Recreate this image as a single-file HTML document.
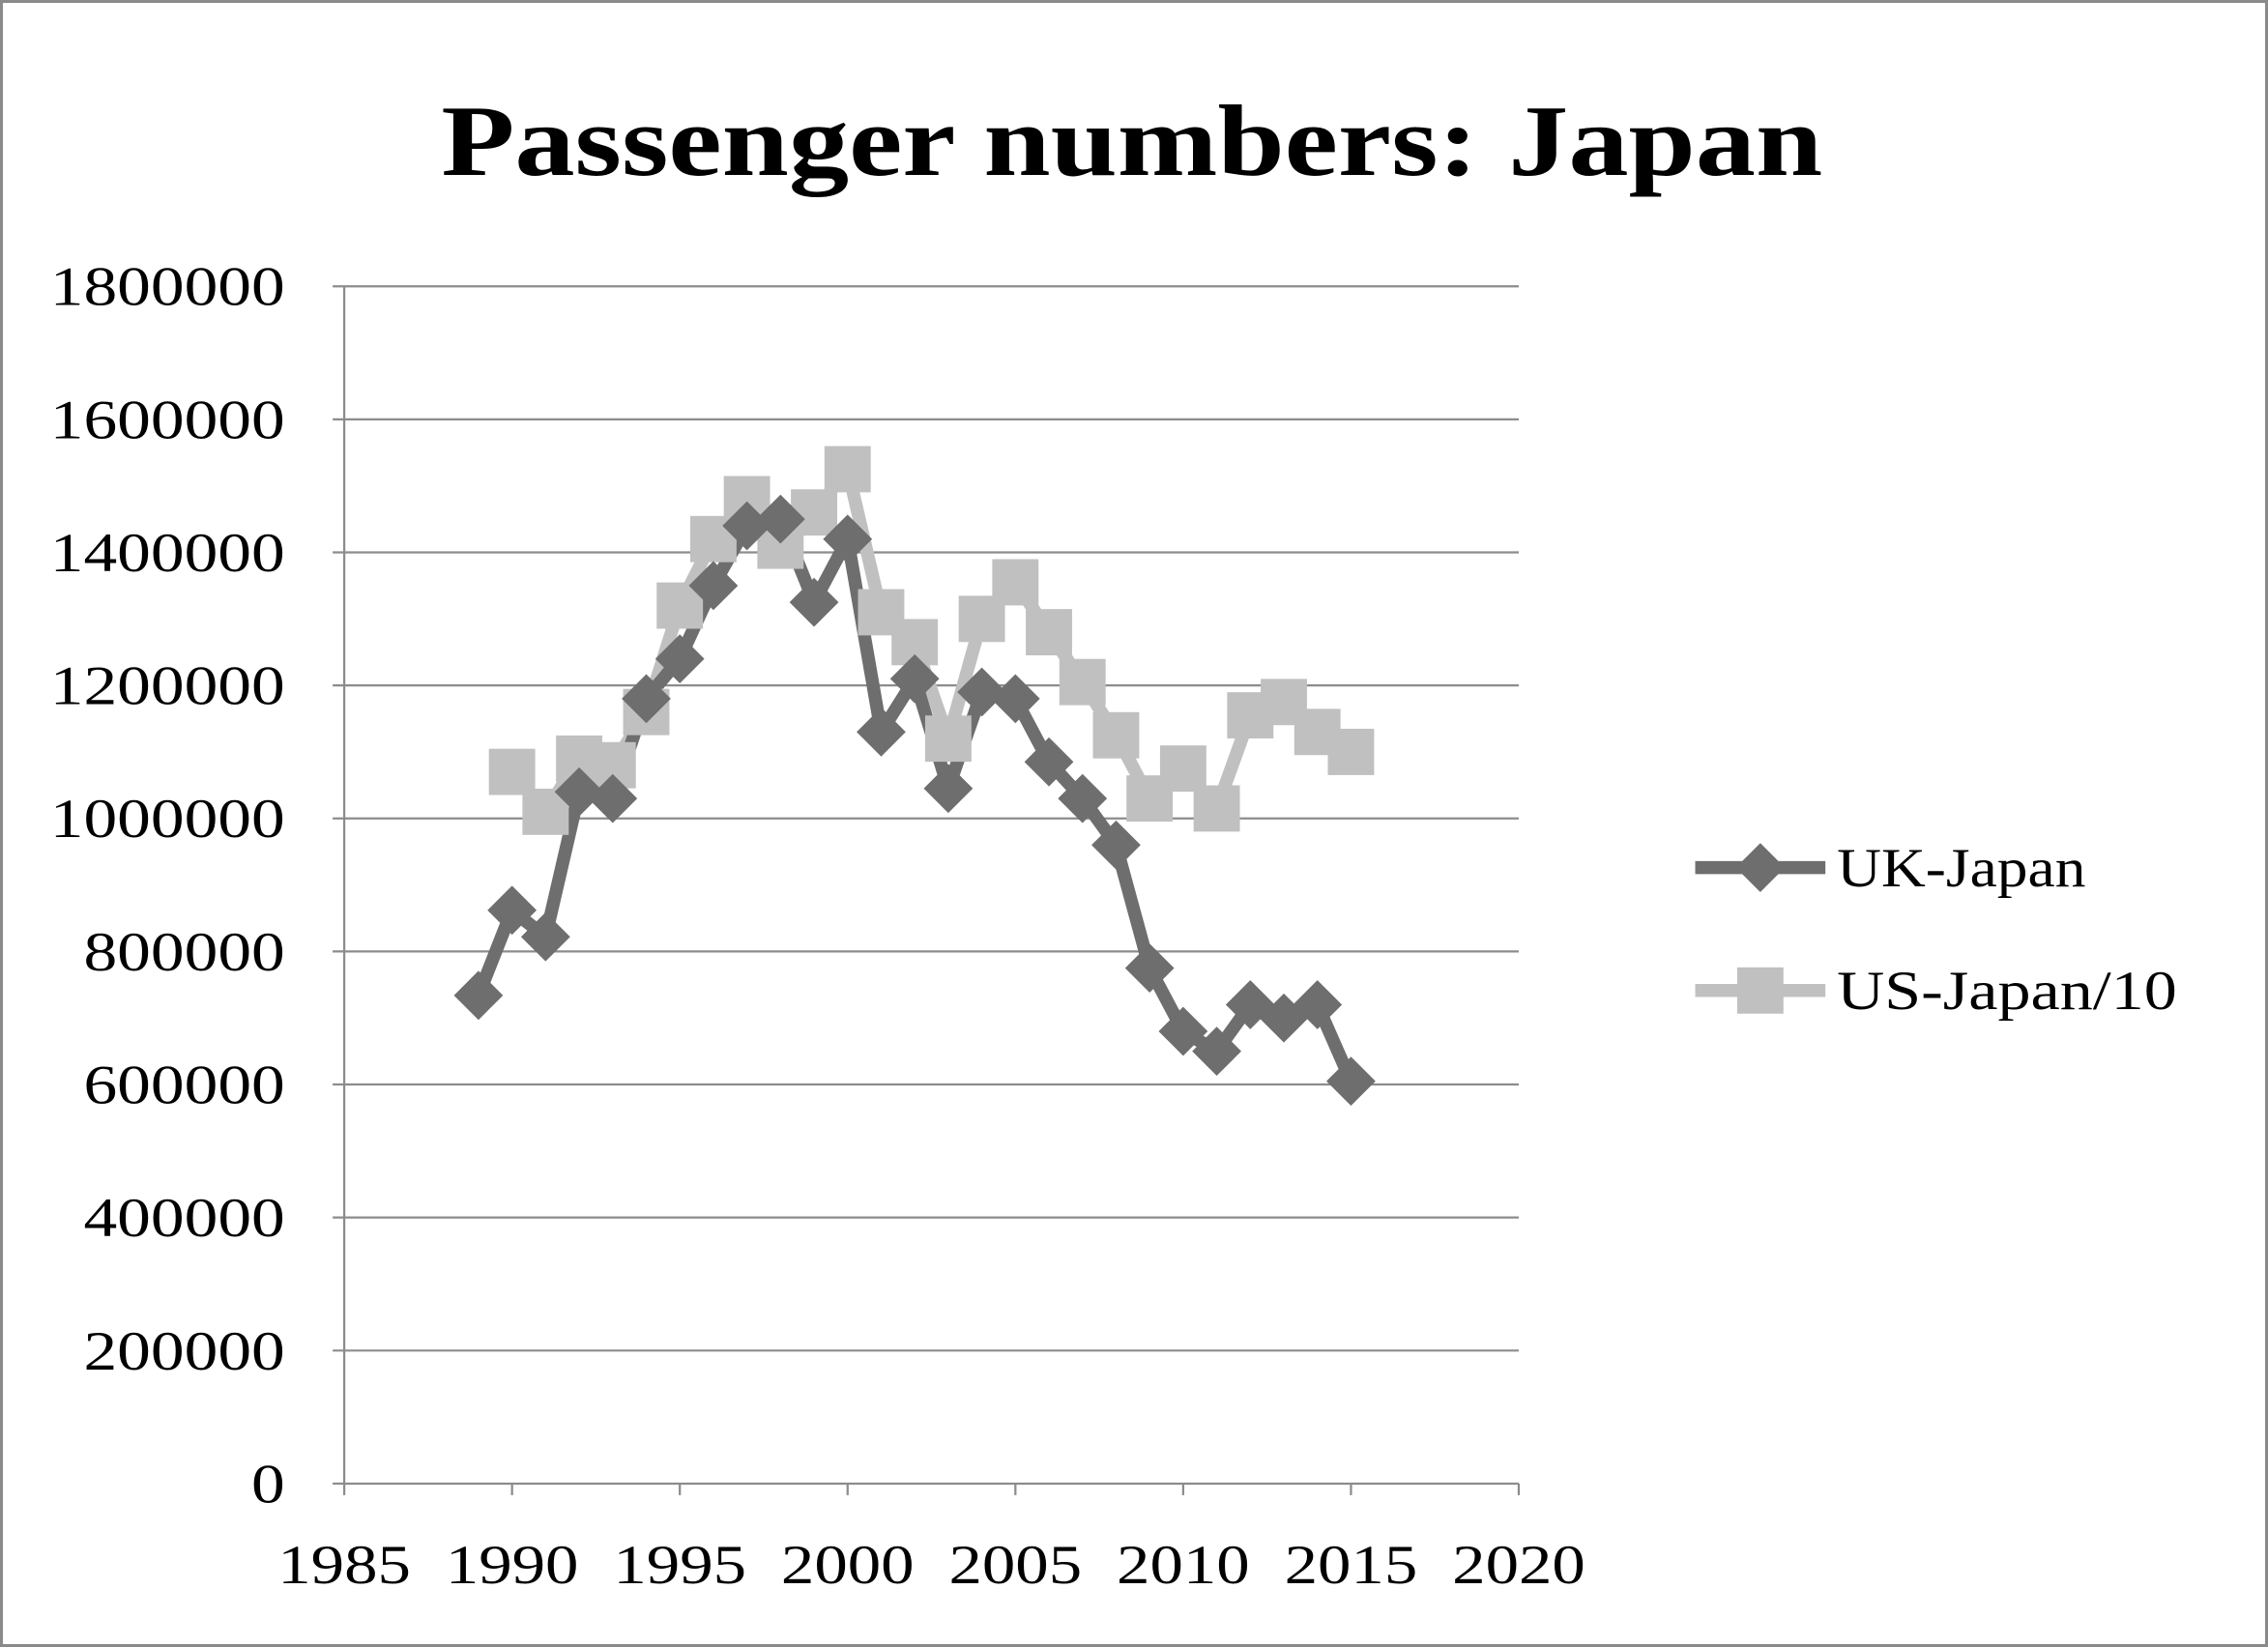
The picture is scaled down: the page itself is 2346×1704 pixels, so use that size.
<!DOCTYPE html>
<html><head><meta charset="utf-8"><style>
html,body{margin:0;padding:0;background:#fff;}
svg{display:block;}
text{font-family:"Liberation Serif","DejaVu Serif",serif;fill:#000;}
</style></head><body>
<svg id="chart" width="2346" height="1704" viewBox="0 0 1568 1139" preserveAspectRatio="none" xmlns="http://www.w3.org/2000/svg">
<rect x="1" y="1" width="1566" height="1137" fill="#fff" stroke="#8a8a8a" stroke-width="2"/>
<text x="305" y="121" font-size="70" font-weight="bold" textLength="955" lengthAdjust="spacingAndGlyphs">Passenger numbers: Japan</text>
<g id="grid"></g><g id="axes"></g><g id="series"></g>
<g>
<line x1="1172" y1="600" x2="1262" y2="600" stroke="#6e6e6e" stroke-width="9"/>
<rect x="1205" y="588" width="24" height="24" fill="#6e6e6e" transform="rotate(45 1217 600)"/>
<text x="1270" y="613" font-size="38" textLength="172" lengthAdjust="spacingAndGlyphs">UK-Japan</text>
<line x1="1172" y1="685" x2="1262" y2="685" stroke="#c0c0c0" stroke-width="9"/>
<rect x="1201" y="669" width="32" height="32" fill="#c0c0c0"/>
<text x="1270" y="698" font-size="38" textLength="235" lengthAdjust="spacingAndGlyphs">US-Japan/10</text>
</g>
</svg>
<script>
const years = [1989,1990,1991,1992,1993,1994,1995,1996,1997,1998,1999,2000,2001,2002,2003,2004,2005,2006,2007,2008,2009,2010,2011,2012,2013,2014,2015];
const ukJapan = [734000,862000,822000,1040000,1030000,1180000,1240000,1350000,1440000,1450000,1325000,1420000,1130000,1210000,1045000,1190000,1180000,1085000,1030000,960000,775000,680000,650000,720000,700000,720000,605000];
const usYears = [1990,1991,1992,1993,1994,1995,1996,1997,1998,1999,2000,2001,2002,2003,2004,2005,2006,2007,2008,2009,2010,2011,2012,2013,2014,2015];
const usJapan10 = [1070000,1010000,1090000,1080000,1160000,1320000,1420000,1480000,1410000,1460000,1525000,1310000,1265000,1120000,1300000,1355000,1280000,1205000,1125000,1030000,1075000,1015000,1155000,1175000,1130000,1100000];
const yTicks = [0,200000,400000,600000,800000,1000000,1200000,1400000,1600000,1800000];
const xTicks = [1985,1990,1995,2000,2005,2010,2015,2020];

const NS="http://www.w3.org/2000/svg";
const X0=238,X1=1050,Y0=1026,Y1=198;
function sx(v){return X0+(v-1985)/(2020-1985)*(X1-X0);}
function sy(v){return Y0-(v/1800000)*(Y0-Y1);}
function mk(tag,attrs,parent){const e=document.createElementNS(NS,tag);for(const k in attrs)e.setAttribute(k,attrs[k]);parent.appendChild(e);return e;}
const grid=document.getElementById('grid'),axes=document.getElementById('axes'),series=document.getElementById('series');
yTicks.forEach(t=>{
  const y=sy(t);
  if(t>0){const g=mk('line',{x1:X0-8,y1:y,x2:X1,y2:y,stroke:'#8c8c8c','stroke-width':1.5},grid);
  
  }
  else{const tk=mk('line',{x1:X0-8,y1:y,x2:X0,y2:y,stroke:'#8c8c8c','stroke-width':1.5},axes);
  
  }
  const s=String(t);
  const l=mk('text',{x:X0-41,y:y+13,'text-anchor':'end','font-size':38,textLength:s.length*23.2,lengthAdjust:'spacingAndGlyphs'},axes);
  l.textContent=s;
  
  
});
const ya=mk('line',{x1:X0,y1:Y1,x2:X0,y2:Y0,stroke:'#8c8c8c','stroke-width':1.5},axes);


const xa=mk('line',{x1:X0,y1:Y0,x2:X1,y2:Y0,stroke:'#8c8c8c','stroke-width':1.5},axes);


xTicks.forEach(t=>{
  const x=sx(t);
  const tk=mk('line',{x1:x,y1:Y0,x2:x,y2:Y0+8,stroke:'#8c8c8c','stroke-width':1.5},axes);
  
  
  const l=mk('text',{x:x,y:Y0+69,'text-anchor':'middle','font-size':38,textLength:92,lengthAdjust:'spacingAndGlyphs'},axes);
  l.textContent=t;
  
  
});
function drawLine(xs,vs,color,name){
  const p=mk('polyline',{points:xs.map((x,i)=>sx(x)+','+sy(vs[i])).join(' '),fill:'none',stroke:color,'stroke-width':9,'stroke-linejoin':'round'},series);
  
  
}
drawLine(usYears,usJapan10,'#c0c0c0','us-japan');
drawLine(years,ukJapan,'#6e6e6e','uk-japan');
usYears.forEach((x,i)=>{
  const r=mk('rect',{x:sx(x)-16,y:sy(usJapan10[i])-16,width:32,height:32,fill:'#c0c0c0'},series);
  
  
});
years.forEach((x,i)=>{
  const cx=sx(x),cy=sy(ukJapan[i]);
  const r=mk('rect',{x:cx-12,y:cy-12,width:24,height:24,fill:'#6e6e6e',transform:'rotate(45 '+cx+' '+cy+')'},series);
  
  
});
</script>
</body></html>
